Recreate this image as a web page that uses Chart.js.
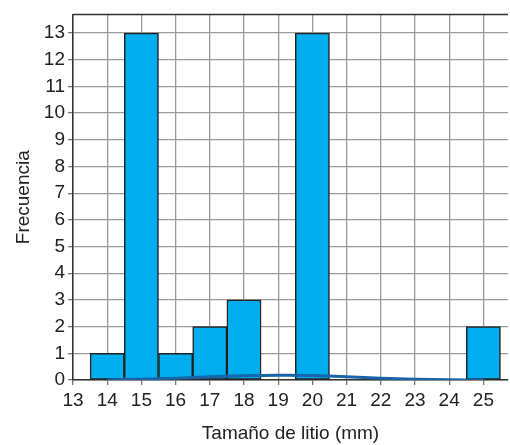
<!DOCTYPE html>
<html>
<head>
<meta charset="utf-8">
<script src="https://cdn.jsdelivr.net/npm/chart.js@4"></script>
<style>
  html, body { margin: 0; padding: 0; background: #fff; }
  #wrap { width: 510px; height: 445px; }
</style>
</head>
<body>
<div id="wrap"><canvas id="myChart" width="510" height="445"></canvas></div>
<script>
// Tamaño de litio (mm) -> frecuencia
var sizes = [14, 15, 16, 17, 18, 19, 20, 21, 22, 23, 24, 25];
var counts = [1, 13, 1, 2, 3, null, 13, null, null, null, null, 2];
// curva suave de la parte inferior
var curveX = [14, 15, 16, 17, 18, 19, 20, 21, 22, 23, 24, 25];
var curveY = [0, 0.03, 0.07, 0.12, 0.16, 0.18, 0.17, 0.12, 0.07, 0.03, 0.01, 0];
var xTicks = [13, 14, 15, 16, 17, 18, 19, 20, 21, 22, 23, 24, 25];
var yTicks = [0, 1, 2, 3, 4, 5, 6, 7, 8, 9, 10, 11, 12, 13];

document.addEventListener("DOMContentLoaded", function() {
    var topBorder = {
        id: 'topBorder',
        afterDatasetsDraw: function(chart) {
            var a = chart.chartArea, ctx = chart.ctx;
            ctx.save();
            ctx.strokeStyle = '#333';
            ctx.lineWidth = 1.5;
            ctx.beginPath();
            ctx.moveTo(a.left, a.top);
            ctx.lineTo(a.right, a.top);
            ctx.stroke();
            ctx.restore();
        }
    };

    new Chart(document.getElementById("myChart"), {
        data: {
            datasets: [{
                type: 'line',
                data: curveX.map(function(x, i) { return { x: x, y: curveY[i] }; }),
                borderColor: '#1565a8',
                borderWidth: 3,
                pointRadius: 0,
                tension: 0.4,
                fill: false,
                order: 0
            }, {
                type: 'bar',
                data: sizes.map(function(x, i) { return { x: x, y: counts[i] }; }),
                backgroundColor: '#00aeef',
                borderColor: '#222',
                borderWidth: 1.5,
                borderSkipped: false,
                barPercentage: 1.0,
                categoryPercentage: 1.0,
                order: 1
            }]
        },
        plugins: [topBorder],
        options: {
            responsive: false,
            animation: false,
            layout: { padding: { top: 12, right: 2, left: 8, bottom: 0 } },
            scales: {
                x: {
                    type: 'linear',
                    offset: false,
                    min: 13,
                    max: 25.72,
                    afterBuildTicks: function(scale) {
                        scale.ticks = xTicks.map(function(v) { return { value: v }; });
                    },
                    afterFit: function(scale) { scale.height = 65; },
                    grid: { offset: false, color: '#9a9a9a', lineWidth: 1.3, tickLength: 5, tickColor: '#777' },
                    border: { color: '#333', width: 1.5 },
                    ticks: { color: '#222', font: { family: 'Liberation Sans', size: 19 }, padding: 4, maxRotation: 0, autoSkip: false },
                    title: { display: true, text: 'Tamaño de litio (mm)', color: '#222', font: { family: 'Liberation Sans', size: 19 }, padding: { top: 8, bottom: 0 } }
                },
                y: {
                    min: 0,
                    max: 13.7,
                    afterBuildTicks: function(scale) {
                        scale.ticks = yTicks.map(function(v) { return { value: v }; });
                    },
                    afterFit: function(scale) { scale.width = 65; },
                    grid: { color: '#9a9a9a', lineWidth: 1.3, tickLength: 5, tickColor: '#777' },
                    border: { color: '#333', width: 1.5 },
                    ticks: { color: '#222', font: { family: 'Liberation Sans', size: 19 }, padding: 3 },
                    title: { display: true, text: 'Frecuencia', color: '#222', font: { family: 'Liberation Sans', size: 19 }, padding: { bottom: 6 } }
                }
            },
            plugins: {
                legend: { display: false },
                tooltip: { enabled: false }
            }
        }
    });
});
</script>
</body>
</html>
